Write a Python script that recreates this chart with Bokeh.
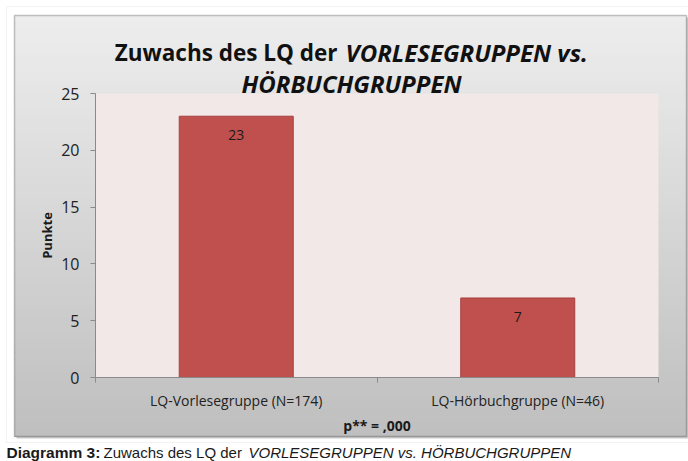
from bokeh.plotting import figure
from bokeh.models import BoxAnnotation, Label, FixedTicker, Range1d
from bokeh.embed import file_html
from bokeh.resources import INLINE
from bokeh.core.properties import value

# ---- data ----
categories = ["LQ-Vorlesegruppe (N=174)", "LQ-Hörbuchgruppe (N=46)"]
values = [23, 7]
y_ticks = [0, 5, 10, 15, 20, 25]
y_max = 25
title_plain = "Zuwachs des LQ der"
title_italic_1 = "VORLESEGRUPPEN vs."
title_italic_2 = "HÖRBUCHGRUPPEN"
x_axis_label = "p** = ,000"
y_axis_label = "Punkte"
caption_bold = "Diagramm 3:"
caption_plain = "Zuwachs des LQ der"
caption_italic = "VORLESEGRUPPEN vs. HÖRBUCHGRUPPEN"

# ---- layout (canvas pixels, origin top-left) ----
W, H = 688, 461
FL, FR, FT, FB = 95, 658, 93, 377             # pink plot area
BOX_L, BOX_R, BOX_T, BOX_B = 14, 686, 15, 436  # grey chart box
FONT = "Open Sans"

n = len(categories)
xs = [i + 0.5 for i in range(n)]
ppx = (FR - FL) / n
ppy = (FB - FT) / y_max

p = figure(width=W, height=H, output_backend="svg", toolbar_location=None,
           x_range=Range1d(-FL / ppx, n + (W - FR) / ppx),
           y_range=Range1d(-(H - FB) / ppy, y_max + FT / ppy),
           min_border=0)
p.title.visible = False
p.outline_line_color = None
p.background_fill_color = "white"
p.border_fill_color = "white"
p.xgrid.visible = False
p.ygrid.visible = False

def cbox(l, r, t, b, **kw):
    p.add_layout(BoxAnnotation(left=l, right=r, top=t, bottom=b,
                               left_units="canvas", right_units="canvas",
                               top_units="canvas", bottom_units="canvas",
                               level="underlay", **kw))

# light page frame
cbox(6, W + 5, 6, 442, fill_alpha=0, line_color="#d4d4d4", line_width=1)
# shadow
cbox(BOX_L + 2, BOX_R + 2, BOX_T + 2, BOX_B + 2, fill_color="#9a9a9a", fill_alpha=0.5,
     line_color=None)
# gradient chart-area box
N = 60
top_c = (237, 237, 237)
bot_c = (191, 191, 191)
step = (BOX_B - BOX_T) / N
for i in range(N):
    t = i / (N - 1)
    c = tuple(int(round(top_c[k] + (bot_c[k] - top_c[k]) * t)) for k in range(3))
    cbox(BOX_L, BOX_R, BOX_T + i * step, BOX_T + (i + 1) * step + 0.6,
         fill_color="#%02x%02x%02x" % c, fill_alpha=1, line_color=None)
# pink plot area
p.add_layout(BoxAnnotation(left=0, right=n, bottom=0, top=y_max,
                           fill_color="#f2e8e7", fill_alpha=1, line_color=None,
                           level="underlay"))
# box border
cbox(BOX_L, BOX_R, BOX_T, BOX_B, fill_alpha=0, line_color="#3c3c3c", line_width=1.5)

# bars
p.vbar(x=xs, top=values, width=0.405, fill_color="#c0504d",
       line_color="#a5423f", line_width=1)
p.text(x=xs, y=values, text=[str(v) for v in values], text_align="center",
       text_baseline="middle", y_offset=19, text_font=value(FONT),
       text_font_size="14px", text_color="#1a1a1a")

# x axis
xa = p.xaxis[0]
xa.fixed_location = 0
xa.bounds = (0, n)
xa.ticker = FixedTicker(ticks=xs, minor_ticks=list(range(n + 1)))
xa.major_label_overrides = {x: c for x, c in zip(xs, categories)}
xa.major_tick_out = 0
xa.major_tick_in = 0
xa.minor_tick_out = 5
xa.minor_tick_in = 0
xa.axis_line_color = "#8a8a8a"
xa.minor_tick_line_color = "#8a8a8a"
xa.major_label_standoff = 8
xa.major_label_text_font = FONT
xa.major_label_text_font_size = "14px"
xa.major_label_text_color = "#222222"
xa.axis_label = x_axis_label
xa.axis_label_text_font = FONT
xa.axis_label_text_font_size = "14px"
xa.axis_label_text_font_style = "bold"
xa.axis_label_text_color = "#1a1a1a"
xa.axis_label_standoff = 3

# y axis
ya = p.yaxis[0]
ya.fixed_location = 0
ya.bounds = (0, y_max)
ya.ticker = FixedTicker(ticks=y_ticks, minor_ticks=[])
ya.major_tick_out = 5
ya.major_tick_in = 0
ya.axis_line_color = "#8a8a8a"
ya.major_tick_line_color = "#8a8a8a"
ya.major_label_standoff = 11
ya.major_label_text_font = FONT
ya.major_label_text_font_size = "16px"
ya.major_label_text_color = "#222222"
ya.axis_label = y_axis_label
ya.axis_label_text_font = FONT
ya.axis_label_text_font_size = "13px"
ya.axis_label_text_font_style = "bold"
ya.axis_label_text_color = "#1a1a1a"
ya.axis_label_standoff = 2

# title and caption
def lab(x, y, text, align, style, size, font=FONT, color="#111111"):
    p.add_layout(Label(x=x, y=y, x_units="canvas", y_units="canvas", text=text,
                       text_align=align, text_baseline="alphabetic",
                       text_font=font, text_font_style=style,
                       text_font_size=size, text_color=color))

lab(337, 52, title_plain, "right", "bold", "22.5px")
lab(345, 52, title_italic_1, "left", "bold italic", "24px")
lab(351, 83, title_italic_2, "center", "bold italic", "24px")

CF = "Liberation Sans"
lab(6, 452, caption_bold, "left", "bold", "15.5px", CF, "#1a1a1a")
lab(103, 452, caption_plain, "left", "normal", "15px", CF, "#1a1a1a")
lab(248, 452, caption_italic, "left", "italic", "15px", CF, "#1a1a1a")

open("out.html", "w").write(file_html(p, INLINE))
